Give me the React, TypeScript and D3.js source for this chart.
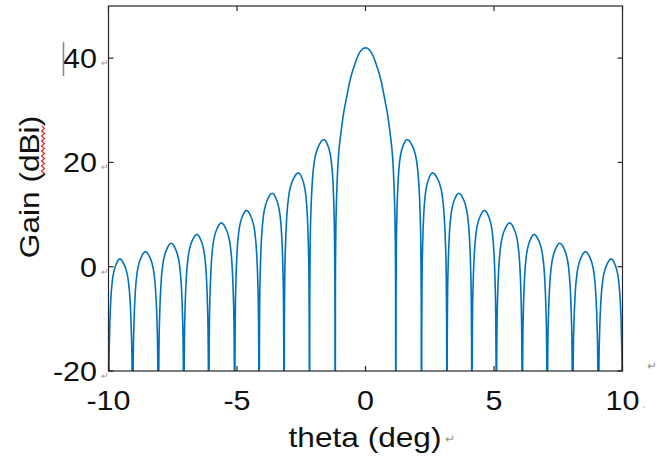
import React from "react";
import * as d3 from "d3";

// ---- data ----
const xTicks = [-10, -5, 0, 5, 10];
const yTicks = [-20, 0, 20, 40];

// main lobe (theta deg, gain dBi); -60 marks the null (clipped by the axis)
const mainTheta = [-1.18, -1.17, -1.15, -1.12, -1.08, -1.02, -0.96, -0.85, -0.75, -0.6, -0.42, -0.2, 0, 0.2, 0.42, 0.6, 0.75, 0.85, 0.96, 1.02, 1.08, 1.12, 1.15, 1.17, 1.18];
const mainGain = [-60, -2, 8, 14, 19, 23, 25.5, 29.5, 32.1, 35.8, 38.8, 41.3, 42, 41.3, 38.8, 35.8, 32.1, 29.5, 25.5, 23, 19, 14, 8, -2, -60];

// side lobes on the right side (mirrored on the left)
const lobeNullInner = [1.18, 2.18, 3.17, 4.14, 5.09, 6.1, 7.07, 8.06, 9.06];
const lobeNullOuter = [2.18, 3.17, 4.14, 5.09, 6.1, 7.07, 8.06, 9.06, 10.0];
const lobePeakTheta = [1.62, 2.61, 3.63, 4.63, 5.61, 6.56, 7.56, 8.56, 9.56];
const lobePeakGain = [24.4, 18.0, 14.1, 10.8, 8.4, 6.2, 4.5, 2.9, 1.5];

// shape of a side lobe: fraction of half width from null, drop below peak (dB)
const profileFrac = [0.02, 0.05, 0.1, 0.2, 0.35, 0.5, 0.7, 0.85, 1];
const profileDrop = [30, 20, 14, 8, 4, 2.2, 0.9, 0.25, 0];

const W = 657;
const H = 459;
const L = 108.5, R = 622.5, T = 6, B = 371;
const STRETCH = 1.13;

function buildPoints(): [number, number][] {
  const pts: [number, number][] = [];
  const lobe = (a: number, p: number, b: number, g: number) => {
    const out: [number, number][] = [[a, -60]];
    profileFrac.forEach((f, i) => {
      if (f < 1) out.push([a + f * (p - a), g - profileDrop[i]]);
    });
    out.push([p, g]);
    for (let i = profileFrac.length - 1; i >= 0; i--) {
      const f = profileFrac[i];
      if (f < 1) out.push([b - f * (b - p), g - profileDrop[i]]);
    }
    out.push([b, -60]);
    return out;
  };
  for (let i = lobePeakGain.length - 1; i >= 0; i--) {
    pts.push(...lobe(-lobeNullOuter[i], -lobePeakTheta[i], -lobeNullInner[i], lobePeakGain[i]));
  }
  mainTheta.forEach((t, i) => pts.push([t, mainGain[i]]));
  for (let i = 0; i < lobePeakGain.length; i++) {
    pts.push(...lobe(lobeNullInner[i], lobePeakTheta[i], lobeNullOuter[i], lobePeakGain[i]));
  }
  const res: [number, number][] = [];
  pts.forEach((p) => {
    const last = res[res.length - 1];
    if (last && Math.abs(last[0] - p[0]) < 1e-9) return;
    res.push(p);
  });
  return res;
}

export default function App() {
  const x = d3.scaleLinear().domain([-10, 10]).range([L, R]);
  const y = d3.scaleLinear().domain([-20, 50]).range([B, T]);
  const pts = buildPoints();
  const line = d3
    .line<[number, number]>()
    .x((d) => x(d[0]))
    .y((d) => y(d[1]))
    .curve(d3.curveMonotoneX);
  const axisColor = "#262626";
  const font = "'Liberation Sans', Arial, sans-serif";
  const tl = 5;
  let squig = "M 42 126";
  for (let yy = 126, k = 0; yy < 173; yy += 2.5, k++) {
    squig += ` L ${k % 2 === 0 ? 44.5 : 41.5} ${yy + 2.5}`;
  }
  return (
    <svg width={W} height={H} style={{ position: "absolute", left: 0, top: 0, background: "#fff" }}>
      <defs>
        <clipPath id="plot">
          <rect x={L} y={T} width={R - L} height={B - T} />
        </clipPath>
      </defs>
      <rect x={0} y={0} width={W} height={H} fill="#fff" />
      <path d={line(pts) || ""} fill="none" stroke="#0072BD" strokeWidth={1.6} clipPath="url(#plot)" />
      <rect x={L} y={T} width={R - L} height={B - T} fill="none" stroke={axisColor} strokeWidth={1.2} />
      {xTicks.map((t) => (
        <g key={"x" + t}>
          <line x1={x(t)} x2={x(t)} y1={B} y2={B - tl} stroke={axisColor} strokeWidth={1.2} />
          <line x1={x(t)} x2={x(t)} y1={T} y2={T + tl} stroke={axisColor} strokeWidth={1.2} />
          <text
            transform={`translate(${x(t)},410) scale(${STRETCH},1)`}
            textAnchor="middle"
            fontFamily={font}
            fontSize={27}
            fill="#111"
          >
            {t}
          </text>
        </g>
      ))}
      {yTicks.map((t) => (
        <g key={"y" + t}>
          <line x1={L} x2={L + tl} y1={y(t)} y2={y(t)} stroke={axisColor} strokeWidth={1.2} />
          <line x1={R} x2={R - tl} y1={y(t)} y2={y(t)} stroke={axisColor} strokeWidth={1.2} />
          <text
            transform={`translate(97,${y(t) + 10}) scale(${STRETCH},1)`}
            textAnchor="end"
            fontFamily={font}
            fontSize={27}
            fill="#111"
          >
            {t}
          </text>
          <text x={101} y={y(t) + 8} fontFamily={font} fontSize={9} fill="#999">
            ↵
          </text>
        </g>
      ))}
      <text
        transform={`translate(365,447) scale(${STRETCH},1)`}
        textAnchor="middle"
        fontFamily={font}
        fontSize={28}
        fill="#111"
      >
        theta (deg)
      </text>
      <text x={445} y={443} fontFamily={font} fontSize={12} fill="#999">↵</text>
      <text x={647} y={370} fontFamily={font} fontSize={12} fill="#999">↵</text>
      <text x={642} y={408} fontFamily={font} fontSize={12} fill="#bbb">.</text>
      <text
        transform={`translate(39, 187) rotate(-90) scale(${STRETCH},1)`}
        textAnchor="middle"
        fontFamily={font}
        fontSize={28}
        fill="#111"
      >
        Gain (dBi)
      </text>
      <path d={squig} fill="none" stroke="#e02020" strokeWidth={1.1} />
      <line x1={63.5} x2={63.5} y1={42} y2={76} stroke="#888" strokeWidth={1.5} />
    </svg>
  );
}
